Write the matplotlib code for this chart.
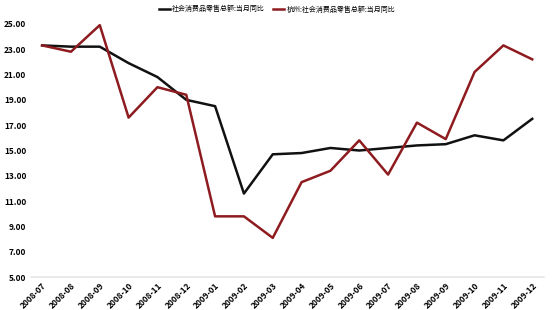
import matplotlib
matplotlib.use("Agg")
import matplotlib.pyplot as plt

plt.rcParams['font.family'] = ['Noto Sans CJK SC', 'DejaVu Sans']

# ---------- Data ----------
months = ["2008-07", "2008-08", "2008-09", "2008-10", "2008-11", "2008-12",
          "2009-01", "2009-02", "2009-03", "2009-04", "2009-05", "2009-06",
          "2009-07", "2009-08", "2009-09", "2009-10", "2009-11", "2009-12"]
national = [23.3, 23.2, 23.2, 21.9, 20.8, 19.0,
            18.5, 11.6, 14.7, 14.8, 15.2, 15.0,
            15.2, 15.4, 15.5, 16.2, 15.8, 17.5]
hangzhou = [23.3, 22.8, 24.9, 17.6, 20.0, 19.4,
            9.8, 9.8, 8.1, 12.5, 13.4, 15.8,
            13.1, 17.2, 15.9, 21.2, 23.3, 22.2]
label_national = "社会消费品零售总额:当月同比"
label_hangzhou = "杭州:社会消费品零售总额:当月同比"
yticks = [5, 7, 9, 11, 13, 15, 17, 19, 21, 23, 25]

# ---------- Plot ----------
fig = plt.figure(figsize=(5.56, 3.10), dpi=100)
ax = fig.add_axes([0.055, 0.106, 0.923, 0.817])

x = range(len(months))
ax.plot(x, national, color="#111111", lw=1.8, label=label_national)
ax.plot(x, hangzhou, color="#8E1B1F", lw=1.8, label=label_hangzhou)

ax.set_xlim(-0.4, len(months) - 0.6)
ax.set_ylim(5, 25)
ax.set_yticks(yticks)
ax.set_yticklabels([f"{v:.2f}" for v in yticks], fontsize=6, fontweight="bold")
ax.set_xticks(list(x))
ax.set_xticklabels(months, rotation=45, ha="right", rotation_mode="anchor",
                   fontsize=6, fontweight="bold")

for side in ["top", "right", "left"]:
    ax.spines[side].set_visible(False)
ax.spines["bottom"].set_color("#e6e6e6")
ax.spines["bottom"].set_linewidth(1.2)
ax.tick_params(axis="both", length=0, pad=3)

ax.legend(loc="lower center", bbox_to_anchor=(0.48, 1.03), ncol=2, frameon=False,
          fontsize=5, handlelength=1.6, handletextpad=0.3, columnspacing=1.2,
          borderaxespad=0)

fig.savefig("out.png", dpi=100)
